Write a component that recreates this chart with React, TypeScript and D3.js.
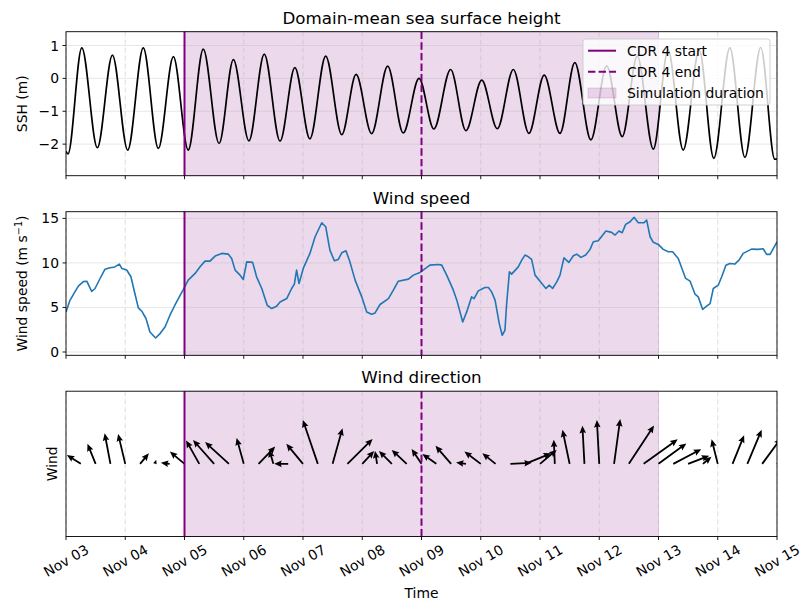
import React from "react";
import * as d3 from "d3";

// time axis: hours since Nov 03 00:00
const T0 = Date.UTC(2023, 10, 3);
const hoursToDate = (h: number) => new Date(T0 + h * 3600 * 1000);

const cdrStartHour = 48; // Nov 05
const cdrEndHour = 144; // Nov 09
const simEndHour = 240; // Nov 13

// SSH turning points
const sshHours = [
  0, 0.8, 6.4, 12.7, 18.8, 25.0, 31.3, 37.4, 43.5, 49.5,
  55.6, 62.0, 67.8, 74.1, 80.3, 86.7, 92.7, 98.8, 105.2, 111.7,
  117.5, 123.8, 130.3, 136.6, 143.0, 149.0, 155.8, 162.0, 168.4, 174.7,
  181.2, 187.5, 193.7, 200.1, 206.1, 212.6, 219.0, 225.3, 231.4, 237.9,
  243.9, 250.0, 256.5, 262.4, 268.9, 275.0, 281.4, 287.1, 288.0,
];
const sshValues = [
  -2.22, -2.3, 0.93, -2.11, 0.71, -2.18, 0.93, -2.13, 0.66, -2.18,
  0.89, -1.98, 0.57, -1.9, 0.74, -1.91, 0.33, -1.84, 0.68, -1.71,
  0.12, -1.68, 0.37, -1.66, 0.0, -1.54, 0.27, -1.59, -0.05, -1.53,
  0.27, -1.67, 0.1, -1.67, 0.48, -1.87, 0.38, -1.77, 0.68, -2.15,
  0.86, -2.18, 0.86, -2.43, 0.93, -2.4, 0.94, -2.46, -2.45,
];

const windHours = [
  0, 1.6, 3.6, 5.0, 7.0, 8.4, 10.4, 11.7, 13.8, 15.8,
  17.8, 19.8, 21.6, 22.6, 24.6, 26.3, 27.9, 29.3, 30.7, 32.4,
  34.0, 36.3, 38.1, 40.1, 42.1, 44.1, 45.9, 47.5, 49.5, 52.3,
  54.3, 56.3, 58.3, 60.4, 63.1, 65.7, 67.1, 68.5, 70.5, 71.8,
  73.2, 75.6, 77.2, 79.3, 81.5, 83.3, 85.3, 86.7, 89.4, 91.4,
  92.5, 93.4, 94.4, 96.1, 98.8, 100.9, 103.6, 105.2, 106.9, 108.7,
  110.3, 111.7, 113.4, 115.0, 117.1, 119.8, 121.8, 123.8, 125.2, 127.2,
  130.6, 132.6, 134.6, 138.7, 140.7, 143.4, 147.4, 150.8, 152.2, 154.2,
  156.9, 158.3, 160.7, 162.3, 164.3, 165.3, 167.0, 169.7, 171.1, 172.4,
  173.8, 175.5, 176.7, 177.8, 178.5, 179.6, 180.5, 183.2, 184.6, 185.9,
  186.9, 188.6, 190.0, 192.0, 194.4, 195.8, 197.1, 198.8, 200.1, 201.7,
  203.7, 205.5, 206.9, 208.6, 210.5, 212.3, 213.6, 215.6, 218.7, 221.0,
  222.4, 224.0, 225.3, 226.7, 228.5, 230.1, 231.8, 234.1, 235.2, 236.6,
  237.9, 239.9, 241.9, 244.0, 245.7, 248.0, 251.0, 252.8, 254.8, 256.1,
  257.9, 259.1, 260.9, 262.2, 264.2, 265.6, 267.3, 268.9, 270.9, 272.6,
  274.3, 277.7, 280.4, 282.4, 283.8, 285.2, 288.0,
];
const windSpeed = [
  4.5, 5.8, 6.75, 7.4, 7.9, 7.95, 6.8, 7.1, 8.25, 9.3,
  9.45, 9.55, 9.87, 9.38, 9.2, 8.45, 6.57, 4.95, 4.58, 3.76,
  2.25, 1.57, 2.07, 2.81, 4.13, 5.25, 6.19, 7.0, 8.07, 8.82,
  9.56, 10.2, 10.2, 10.77, 11.07, 10.99, 10.5, 9.19, 8.63, 8.14,
  10.12, 10.06, 8.44, 7.13, 5.25, 4.88, 5.14, 5.62, 6.0, 7.13,
  7.62, 9.19, 7.69, 9.38, 11.07, 12.94, 14.51, 14.06, 11.44, 10.24,
  10.39, 11.14, 11.36, 10.12, 8.07, 6.19, 4.5, 4.24, 4.39, 5.33,
  6.0, 6.94, 7.95, 8.18, 8.63, 8.93, 9.75, 9.83, 9.75, 8.63,
  6.94, 5.82, 3.37, 4.5, 6.19, 6.0, 6.86, 7.24, 7.24, 6.75,
  5.82, 3.19, 1.88, 2.44, 5.44, 9.0, 8.74, 9.56, 10.31, 10.88,
  10.76, 10.39, 8.63, 7.95, 7.13, 7.5, 7.13, 7.87, 8.63, 10.57,
  10.06, 10.8, 10.99, 10.62, 10.88, 11.52, 12.37, 12.49, 13.58, 13.43,
  13.13, 13.58, 13.39, 14.33, 14.62, 15.12, 14.51, 14.51, 14.81, 12.94,
  12.31, 12.08, 11.52, 11.25, 11.25, 10.5, 8.26, 7.95, 6.49, 6.19,
  4.77, 5.06, 5.44, 7.13, 7.5, 8.44, 9.75, 9.94, 9.87, 10.31,
  11.07, 11.55, 11.52, 11.59, 10.96, 10.96, 12.37,
];

// 6-hourly wind vectors (m/s)
const arrowHours = [
  0, 6, 12, 18, 24, 30, 36, 42, 48, 54,
  60, 66, 72, 78, 84, 90, 96, 102, 108, 114,
  120, 126, 132, 138, 144, 150, 156, 162, 168, 174,
  180, 186, 192, 198, 204, 210, 216, 222, 228, 234,
  240, 246, 252, 258, 264, 270, 276, 282, 288,
];
const arrowU = [
  -3.8, -4.1, -2.4, -1.7, -2.1, 2.6, 0.4, -2.6, -4.3, -3.9,
  -6.2, -7.0, -2.1, 4.9, -1.2, -4.1, -4.9, -4.4, 2.9, 7.4,
  3.5, -0.6, -3.8, -4.4, -2.9, -4.1, -4.6, -2.9, -4.8, -3.9,
  6.3, 7.6, 4.9, -0.3, -2.1, -0.6, -0.7, 1.8, 7.4, 10.0,
  8.2, 8.2, 6.2, 2.5, -1.8, 3.4, 4.2, 5.6, 5.9,
];
const arrowV = [
  2.4, 2.6, 5.9, 9.0, 8.8, 3.1, 1.2, 0.3, 3.6, 6.9,
  7.0, 6.4, 7.6, 5.1, 4.1, 0.0, 5.9, 12.9, 10.5, 7.3,
  3.8, 3.8, 3.8, 4.1, 4.4, 2.9, 5.3, 0.4, 3.6, 3.1,
  0.3, 3.1, 4.1, 7.1, 10.0, 11.2, 12.9, 13.2, 11.3, 7.2,
  6.0, 4.3, 2.4, 2.1, 7.2, 8.4, 10.0, 7.6, 5.9,
];

const sshTicks = [-2, -1, 0, 1];
const windTicks = [0, 5, 10, 15];

const PURPLE = "#800080";
const FONT = "DejaVu Sans, sans-serif";

const W = 811;
const H = 611;
const LEFT = 66;
const RIGHT = 777;
const panels = [
  { top: 31.7, bottom: 175.7, title: "Domain-mean sea surface height" },
  { top: 211.7, bottom: 355.3, title: "Wind speed" },
  { top: 391.2, bottom: 536.5, title: "Wind direction" },
];

const x = d3
  .scaleUtc()
  .domain([hoursToDate(0), hoursToDate(288)])
  .range([LEFT, RIGHT]);
const dayTicks = x.ticks(d3.utcDay.every(1)!);
const fmt = d3.utcFormat("%b %d");

const ySsh = d3.scaleLinear().domain([-2.96, 1.42]).range([panels[0].bottom, panels[0].top]);
const yWind = d3.scaleLinear().domain([-0.37, 15.75]).range([panels[1].bottom, panels[1].top]);
const yDir = d3.scaleLinear().domain([-1, 1]).range([panels[2].bottom, panels[2].top]);

const sshLine = d3
  .line<number>()
  .x((_, i) => x(hoursToDate(sshHours[i])))
  .y((d) => ySsh(d))
  .curve(d3.curveMonotoneX);

const windLine = d3
  .line<number>()
  .x((_, i) => x(hoursToDate(windHours[i])))
  .y((d) => yWind(d));

const arrowScale = 3.4; // px per m/s

const Arrow = ({ h, u, v }: { h: number; u: number; v: number }) => {
  const dx = u * arrowScale;
  const dy = -v * arrowScale;
  const L = Math.hypot(dx, dy);
  const ang = (Math.atan2(dy, dx) * 180) / Math.PI;
  const k = Math.min(1, L / 7.5);
  const hl = 7.5 * k;
  const hal = 6.6 * k;
  const hw = 3.3 * k;
  const sw = 0.9 * Math.max(k, 0.6);
  const pts = [
    [0, -sw],
    [L - hal, -sw],
    [L - hl, -hw],
    [L, 0],
    [L - hl, hw],
    [L - hal, sw],
    [0, sw],
  ];
  return (
    <polygon
      transform={`translate(${x(hoursToDate(h))},${yDir(0)}) rotate(${ang})`}
      points={pts.map((p) => p.join(",")).join(" ")}
      fill="#000"
    />
  );
};

const Panel = ({ idx, children, yTicks, yScale }: any) => {
  const p = panels[idx];
  const cx = (LEFT + RIGHT) / 2;
  return (
    <g>
      <rect x={LEFT} y={p.top} width={RIGHT - LEFT} height={p.bottom - p.top} fill="#fff" />
      {/* simulation span */}
      <rect
        x={x(hoursToDate(cdrStartHour))}
        y={p.top}
        width={x(hoursToDate(simEndHour)) - x(hoursToDate(cdrStartHour))}
        height={p.bottom - p.top}
        fill={PURPLE}
        fillOpacity={0.15}
        stroke={PURPLE}
        strokeOpacity={0.15}
      />
      {dayTicks.map((d, i) => (
        <line
          key={i}
          x1={x(d)}
          x2={x(d)}
          y1={p.top}
          y2={p.bottom}
          stroke="#b0b0b0"
          strokeOpacity={0.45}
          strokeWidth={0.9}
          strokeDasharray="5,3"
        />
      ))}
      {yTicks &&
        yTicks.map((t: number) => (
          <line
            key={t}
            x1={LEFT}
            x2={RIGHT}
            y1={yScale(t)}
            y2={yScale(t)}
            stroke="#b0b0b0"
            strokeOpacity={0.35}
            strokeWidth={0.9}
          />
        ))}
      <clipPath id={`clip${idx}`}>
        <rect x={LEFT} y={p.top} width={RIGHT - LEFT} height={p.bottom - p.top} />
      </clipPath>
      <g clipPath={`url(#clip${idx})`}>{children}</g>
      <line
        x1={x(hoursToDate(cdrStartHour))}
        x2={x(hoursToDate(cdrStartHour))}
        y1={p.top}
        y2={p.bottom}
        stroke={PURPLE}
        strokeWidth={2}
      />
      <line
        x1={x(hoursToDate(cdrEndHour))}
        x2={x(hoursToDate(cdrEndHour))}
        y1={p.top}
        y2={p.bottom}
        stroke={PURPLE}
        strokeWidth={2}
        strokeDasharray="7.4,3.2"
      />
      <rect
        x={LEFT}
        y={p.top}
        width={RIGHT - LEFT}
        height={p.bottom - p.top}
        fill="none"
        stroke="#000"
        strokeWidth={0.9}
      />
      {dayTicks.map((d, i) => (
        <line key={i} x1={x(d)} x2={x(d)} y1={p.bottom} y2={p.bottom + 3.5} stroke="#000" strokeWidth={0.9} />
      ))}
      {yTicks &&
        yTicks.map((t: number) => (
          <g key={t}>
            <line x1={LEFT - 3.5} x2={LEFT} y1={yScale(t)} y2={yScale(t)} stroke="#000" strokeWidth={0.9} />
            <text
              x={LEFT - 7}
              y={yScale(t)}
              textAnchor="end"
              dominantBaseline="central"
              fontSize={13.9}
              fontFamily={FONT}
            >
              {t < 0 ? `\u2212${Math.abs(t)}` : t}
            </text>
          </g>
        ))}
      <text x={cx} y={p.top - 8} textAnchor="middle" fontSize={16.7} fontFamily={FONT}>
        {p.title}
      </text>
    </g>
  );
};

export default function App() {
  const mid = (i: number) => (panels[i].top + panels[i].bottom) / 2;
  const legX = 583;
  const legY = 39;
  return (
    <svg
      width={W}
      height={H}
      viewBox={`0 0 ${W} ${H}`}
      style={{ position: "absolute", left: 0, top: 0, background: "#fff" }}
    >
      <Panel idx={0} yTicks={sshTicks} yScale={ySsh}>
        <path d={sshLine(sshValues) || ""} fill="none" stroke="#000" strokeWidth={1.7} />
      </Panel>
      <Panel idx={1} yTicks={windTicks} yScale={yWind}>
        <path d={windLine(windSpeed) || ""} fill="none" stroke="#1f77b4" strokeWidth={1.6} strokeLinejoin="round" />
      </Panel>
      <Panel idx={2}>
        {arrowHours.map((h, i) => (
          <Arrow key={i} h={h} u={arrowU[i]} v={arrowV[i]} />
        ))}
      </Panel>

      {/* y labels */}
      <text
        transform={`translate(27,${mid(0)}) rotate(-90)`}
        textAnchor="middle"
        fontSize={13.9}
        fontFamily={FONT}
      >
        SSH (m)
      </text>
      <text
        transform={`translate(27,${mid(1)}) rotate(-90)`}
        textAnchor="middle"
        fontSize={13.9}
        fontFamily={FONT}
      >
        Wind speed (m s<tspan dy={-5} fontSize={9.7}>{"\u22121"}</tspan>
        <tspan dy={5}>)</tspan>
      </text>
      <text
        transform={`translate(57,${mid(2)}) rotate(-90)`}
        textAnchor="middle"
        fontSize={13.9}
        fontFamily={FONT}
      >
        Wind
      </text>

      {/* x tick labels */}
      {dayTicks.map((d, i) => (
        <text
          key={i}
          transform={`translate(${x(d)},${panels[2].bottom + 24}) rotate(-30)`}
          textAnchor="middle"
          dominantBaseline="central"
          fontSize={13.9}
          fontFamily={FONT}
        >
          {fmt(d)}
        </text>
      ))}
      <text x={(LEFT + RIGHT) / 2} y={598} textAnchor="middle" fontSize={13.9} fontFamily={FONT}>
        Time
      </text>

      {/* legend */}
      <g>
        <rect
          x={legX}
          y={legY}
          width={187}
          height={66}
          rx={2.5}
          fill="#fff"
          fillOpacity={0.8}
          stroke="#cccccc"
          strokeWidth={0.9}
        />
        <line x1={legX + 5} x2={legX + 33} y1={legY + 11.7} y2={legY + 11.7} stroke={PURPLE} strokeWidth={2} />
        <text x={legX + 44} y={legY + 11.7} dominantBaseline="central" fontSize={13.9} fontFamily={FONT}>
          CDR 4 start
        </text>
        <line
          x1={legX + 5}
          x2={legX + 33}
          y1={legY + 32.7}
          y2={legY + 32.7}
          stroke={PURPLE}
          strokeWidth={2}
          strokeDasharray="7.4,3.2"
        />
        <text x={legX + 44} y={legY + 32.7} dominantBaseline="central" fontSize={13.9} fontFamily={FONT}>
          CDR 4 end
        </text>
        <rect
          x={legX + 5}
          y={legY + 49}
          width={28}
          height={10}
          fill={PURPLE}
          fillOpacity={0.15}
          stroke={PURPLE}
          strokeOpacity={0.15}
        />
        <text x={legX + 44} y={legY + 54.3} dominantBaseline="central" fontSize={13.9} fontFamily={FONT}>
          Simulation duration
        </text>
      </g>
    </svg>
  );
}
